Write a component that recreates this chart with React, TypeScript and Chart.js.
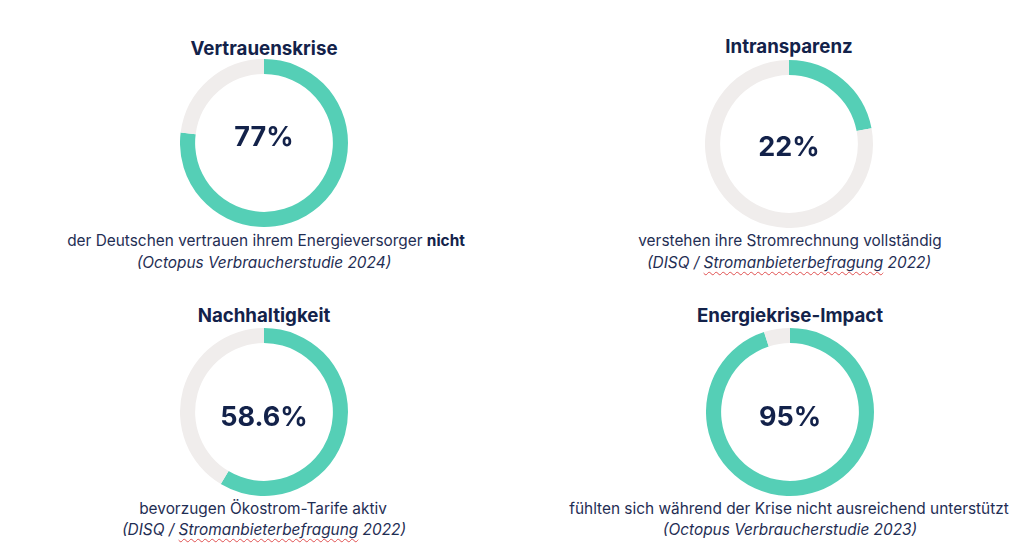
import React, { useEffect, useRef } from "react";
import { Chart, registerables } from "chart.js";

Chart.register(...registerables);

const titles = ["Vertrauenskrise", "Intransparenz", "Nachhaltigkeit", "Energiekrise-Impact"];
const values = [77, 22, 58.6, 95];
const valueLabels = ["77%", "22%", "58.6%", "95%"];
const descriptions = [
  "der Deutschen vertrauen ihrem Energieversorger ",
  "verstehen ihre Stromrechnung vollständig",
  "bevorzugen Ökostrom-Tarife aktiv",
  "fühlten sich während der Krise nicht ausreichend unterstützt",
];
const descriptionBold = ["nicht", "", "", ""];
const sourcesPre = ["(Octopus Verbraucherstudie 2024)", "(DISQ / ", "(DISQ / ", "(Octopus Verbraucherstudie 2023)"];
const sourcesMarked = ["", "Stromanbieterbefragung", "Stromanbieterbefragung", ""];
const sourcesPost = ["", " 2022)", " 2022)", ""];

// layout (not data)
const layout = [
  { cx: 264, cy: 143, titleY: 49, valueY: 136, descY: 241, descX: 266, srcY: 263, srcX: 264 },
  { cx: 789, cy: 144, titleY: 47, valueY: 146, descY: 241, descX: 790, srcY: 263, srcX: 789 },
  { cx: 264, cy: 412, titleY: 316, valueY: 416, descY: 509, descX: 263, srcY: 530, srcX: 264 },
  { cx: 790, cy: 412, titleY: 316, valueY: 416, descY: 509, descX: 789, srcY: 530, srcX: 790 },
];

const TEAL = "#55cfb6";
const GRAY = "#f0edec";
const NAVY = "#13224a";
const R = 84;
const FONT = "Inter, 'Noto Sans', sans-serif";

function Donut({ value }: { value: number }) {
  const ref = useRef<HTMLCanvasElement>(null);
  useEffect(() => {
    if (!ref.current) return;
    const chart = new Chart(ref.current, {
      type: "doughnut",
      data: {
        labels: ["Anteil", "Rest"],
        datasets: [
          {
            data: [value, 100 - value],
            backgroundColor: [TEAL, GRAY],
            borderWidth: 0,
            hoverOffset: 0,
          },
        ],
      },
      options: {
        animation: false,
        responsive: false,
        maintainAspectRatio: false,
        cutout: "82%",
        rotation: 0,
        layout: { padding: 0 },
        plugins: { legend: { display: false }, tooltip: { enabled: false } },
        events: [],
      },
    });
    return () => chart.destroy();
  }, [value]);
  return <canvas ref={ref} width={R * 2} height={R * 2} style={{ width: R * 2, height: R * 2, display: "block" }} />;
}

const centered = (x: number, y: number): React.CSSProperties => ({
  position: "absolute",
  left: x,
  top: y,
  transform: "translate(-50%, -50%)",
  whiteSpace: "nowrap",
  fontFamily: FONT,
  color: NAVY,
  lineHeight: 1,
});

export default function App() {
  return (
    <div style={{ position: "fixed", left: 0, top: 0, width: 1024, height: 550, background: "#ffffff", overflow: "hidden" }}>
      {titles.map((t, i) => {
        const l = layout[i];
        return (
          <React.Fragment key={t}>
            <div style={{ ...centered(l.cx, l.titleY), fontSize: 18.7, fontWeight: 700 }}>{t}</div>
            <div style={{ position: "absolute", left: l.cx - R, top: l.cy - R }}>
              <Donut value={values[i]} />
            </div>
            <div style={{ ...centered(l.cx, l.valueY), fontSize: 27, fontWeight: 700 }}>{valueLabels[i]}</div>
            <div style={{ ...centered(l.descX, l.descY), fontSize: 15.4, color: "#1f2e54" }}>
              {descriptions[i]}
              {descriptionBold[i] && <b style={{ color: NAVY }}>{descriptionBold[i]}</b>}
            </div>
            <div style={{ ...centered(l.srcX, l.srcY), fontSize: 15.4, fontStyle: "italic", color: "#1f2e54" }}>
              {sourcesPre[i]}
              {sourcesMarked[i] && (
                <span style={{ textDecoration: "underline wavy #e05050", textDecorationThickness: 1, textUnderlineOffset: 3 }}>
                  {sourcesMarked[i]}
                </span>
              )}
              {sourcesPost[i]}
            </div>
          </React.Fragment>
        );
      })}
    </div>
  );
}
